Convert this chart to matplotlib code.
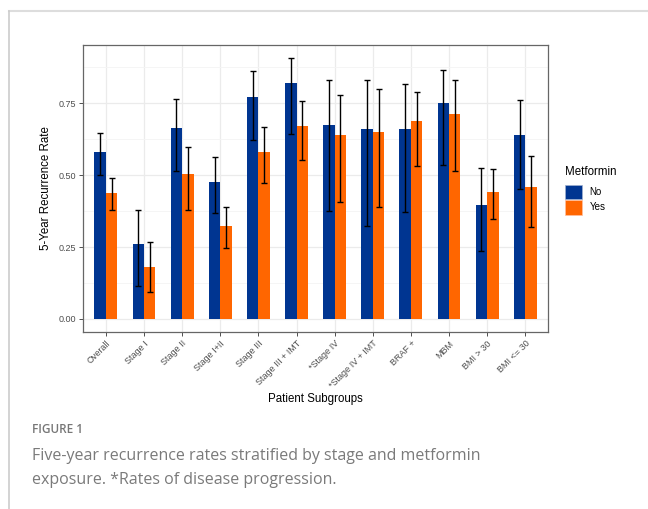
import numpy as np
import matplotlib
matplotlib.use("Agg")
from matplotlib import pyplot as plt
from matplotlib.patches import Patch
from matplotlib.lines import Line2D

plt.rcParams['font.family'] = ['Liberation Sans', 'DejaVu Sans']

# -----------------------------------------------
# DATA
groups = ["Overall", "Stage I", "Stage II", "Stage I+II", "Stage III",
          "Stage III + IMT", "*Stage IV", "*Stage IV + IMT", "BRAF +",
          "MBM", "BMI > 30", "BMI <= 30"]
rate_no = [0.580, 0.260, 0.663, 0.475, 0.772, 0.820,
           0.673, 0.660, 0.661, 0.750, 0.396, 0.638]
low_no = [0.500, 0.116, 0.516, 0.370, 0.621, 0.644,
          0.377, 0.323, 0.372, 0.534, 0.235, 0.453]
high_no = [0.647, 0.380, 0.765, 0.564, 0.863, 0.907,
           0.829, 0.829, 0.818, 0.866, 0.524, 0.760]
rate_yes = [0.437, 0.182, 0.503, 0.322, 0.581, 0.671,
            0.639, 0.650, 0.688, 0.713, 0.442, 0.458]
low_yes = [0.378, 0.093, 0.380, 0.248, 0.474, 0.552,
           0.408, 0.389, 0.531, 0.516, 0.349, 0.318]
high_yes = [0.490, 0.266, 0.599, 0.388, 0.667, 0.758,
            0.780, 0.800, 0.790, 0.829, 0.521, 0.567]
y_ticks = [0.0, 0.25, 0.5, 0.75]

blue = "#003591"
orange = "#FF6600"

# -----------------------------------------------
# FIGURE
fig = plt.figure(figsize=(6.48, 5.09), dpi=100)
ax = fig.add_axes([0.128, 0.3477, 0.718, 0.5639])

x = np.arange(1, len(groups) + 1)
w = 0.3

def draw_group(xpos, rate, low, high, color):
  ax.bar(xpos, rate, width=w, color=color, zorder=2)
  rate = np.array(rate)
  err = [rate - np.array(low), np.array(high) - rate]
  ax.errorbar(xpos, rate, yerr=err, fmt="none", ecolor="black",
              elinewidth=1.0, capsize=2.2, capthick=1.0, zorder=3)

draw_group(x - w / 2, rate_no, low_no, high_no, blue)
draw_group(x + w / 2, rate_yes, low_yes, high_yes, orange)

ax.set_xlim(0.4, len(groups) + 0.6)
ax.set_ylim(-0.0454, 0.9524)
ax.set_xticks(x)
ax.set_xticklabels(groups, rotation=45, ha="right", va="top",
                   rotation_mode="anchor", fontsize=6.5, color="#4d4d4d")
ax.set_yticks(y_ticks)
ax.set_yticklabels(["%.2f" % v for v in y_ticks], fontsize=6.5, color="#4d4d4d")
ax.set_yticks([0.125, 0.375, 0.625, 0.875], minor=True)
ax.tick_params(axis="both", which="major", length=3, width=0.6, color="#333333", pad=2)
ax.tick_params(axis="y", which="minor", length=0)

ax.grid(True, which="major", color="#ebebeb", lw=0.9, zorder=0)
ax.grid(True, which="minor", axis="y", color="#f4f4f4", lw=0.6, zorder=0)
ax.set_axisbelow(True)
for s in ax.spines.values():
  s.set_color("#666666")
  s.set_linewidth(0.9)

ax.set_xlabel("Patient Subgroups", fontsize=8.3, labelpad=2)
ax.set_ylabel("5-Year Recurrence Rate", fontsize=8.3, labelpad=5)

handles = [Patch(facecolor=blue, edgecolor="#a0b0d0", lw=0.5, label="No"),
           Patch(facecolor=orange, edgecolor="#ffc0a0", lw=0.5, label="Yes")]
leg = fig.legend(handles=handles, title="Metformin", loc="upper left",
                 bbox_to_anchor=(0.864, 0.684), frameon=False, fontsize=7,
                 title_fontsize=8.3, handlelength=1.75, handleheight=1.95,
                 handletextpad=0.8, labelspacing=0.05, borderpad=0)
leg._legend_box.align = "left"
leg._legend_box.sep = 5

# page frame lines
fig.add_artist(Line2D([0.0145, 1.0], [0.979, 0.979], transform=fig.transFigure,
                      color="#dddddd", lw=1.5))
fig.add_artist(Line2D([0.0145, 0.0145], [0.0, 0.979], transform=fig.transFigure,
                      color="#cccccc", lw=1.2))

# caption
fig.text(0.049, 0.150, "FIGURE 1", fontsize=8.5, color="#777777",
         family="Open Sans", weight="semibold")
fig.text(0.049, 0.097, "Five-year recurrence rates stratified by stage and metformin",
         fontsize=11.5, color="#7a7a7a", family="Open Sans")
fig.text(0.049, 0.050, "exposure. *Rates of disease progression.",
         fontsize=11.5, color="#7a7a7a", family="Open Sans")

fig.savefig("out.png", dpi=100)
